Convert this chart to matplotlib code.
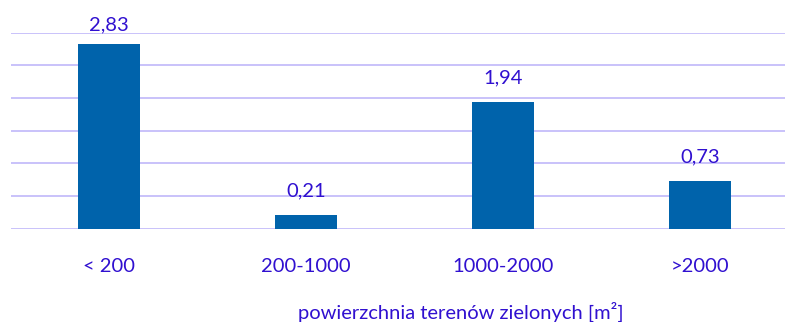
import matplotlib
matplotlib.use("Agg")
import matplotlib.pyplot as plt
import numpy as np

# ── Data ──────────────────────────────────────────────────────────────────────
categories = ["< 200", "200-1000", "1000-2000", ">2000"]
values     = [2.83, 0.21, 1.94, 0.73]
x_title    = "powierzchnia terenów zielonych [m²]"

# ── Style ─────────────────────────────────────────────────────────────────────
BAR_COLOR  = "#0063AB"
TEXT_COLOR = "#3010D0"
GRID_COLOR = "#C9C2FA"
plt.rcParams["font.family"] = ["Lato", "DejaVu Sans"]

W, H, DPI = 785, 322, 100
fig = plt.figure(figsize=(W / DPI, H / DPI), dpi=DPI)

# axes box in pixels: left 10.5, bottom at 228.5 from top, top grid at 32.5
left_px, right_px = 10.5, 798.5
top_px, base_px = 32.5, 228.5
ax = fig.add_axes([left_px / W, 1 - base_px / H,
                   (right_px - left_px) / W, (base_px - top_px) / H])

x = np.arange(len(categories))
ax.bar(x, values, width=0.313, color=BAR_COLOR, zorder=3)

ax.set_xlim(-0.5, len(categories) - 0.5)
ax.set_ylim(0, 3.0)
ax.set_yticks(np.arange(0, 3.01, 0.5))
ax.grid(axis="y", color=GRID_COLOR, linewidth=1.4, zorder=0)
ax.tick_params(axis="y", left=False, labelleft=False)
# category baseline sits ~38 px under the axis line
ax.tick_params(axis="x", bottom=False, pad=38.2 * 72 / DPI,
               labelsize=14.5, labelcolor=TEXT_COLOR)
ax.set_xticks(x)
ax.set_xticklabels(categories)
for lab in ax.get_xticklabels():
    lab.set_va("baseline")
for s in ax.spines.values():
    s.set_visible(False)

# value labels above bars, kept just above the top gridline when needed
px_per_unit = (base_px - top_px) / 3.0
for xi, v in zip(x, values):
    label_px = min(v * px_per_unit + 18, base_px - top_px + 2)
    ax.annotate(f"{v:.2f}".replace(".", ","), xy=(xi, 0),
                xytext=(0, label_px * 72 / DPI), textcoords="offset points",
                ha="center", va="baseline", fontsize=14.5, color=TEXT_COLOR,
                annotation_clip=False)

fig.text(461 / W, 1 - 318.3 / H, x_title, ha="center", va="baseline",
         fontsize=14.5, color=TEXT_COLOR)

fig.savefig("out.png", dpi=DPI, facecolor="white")
